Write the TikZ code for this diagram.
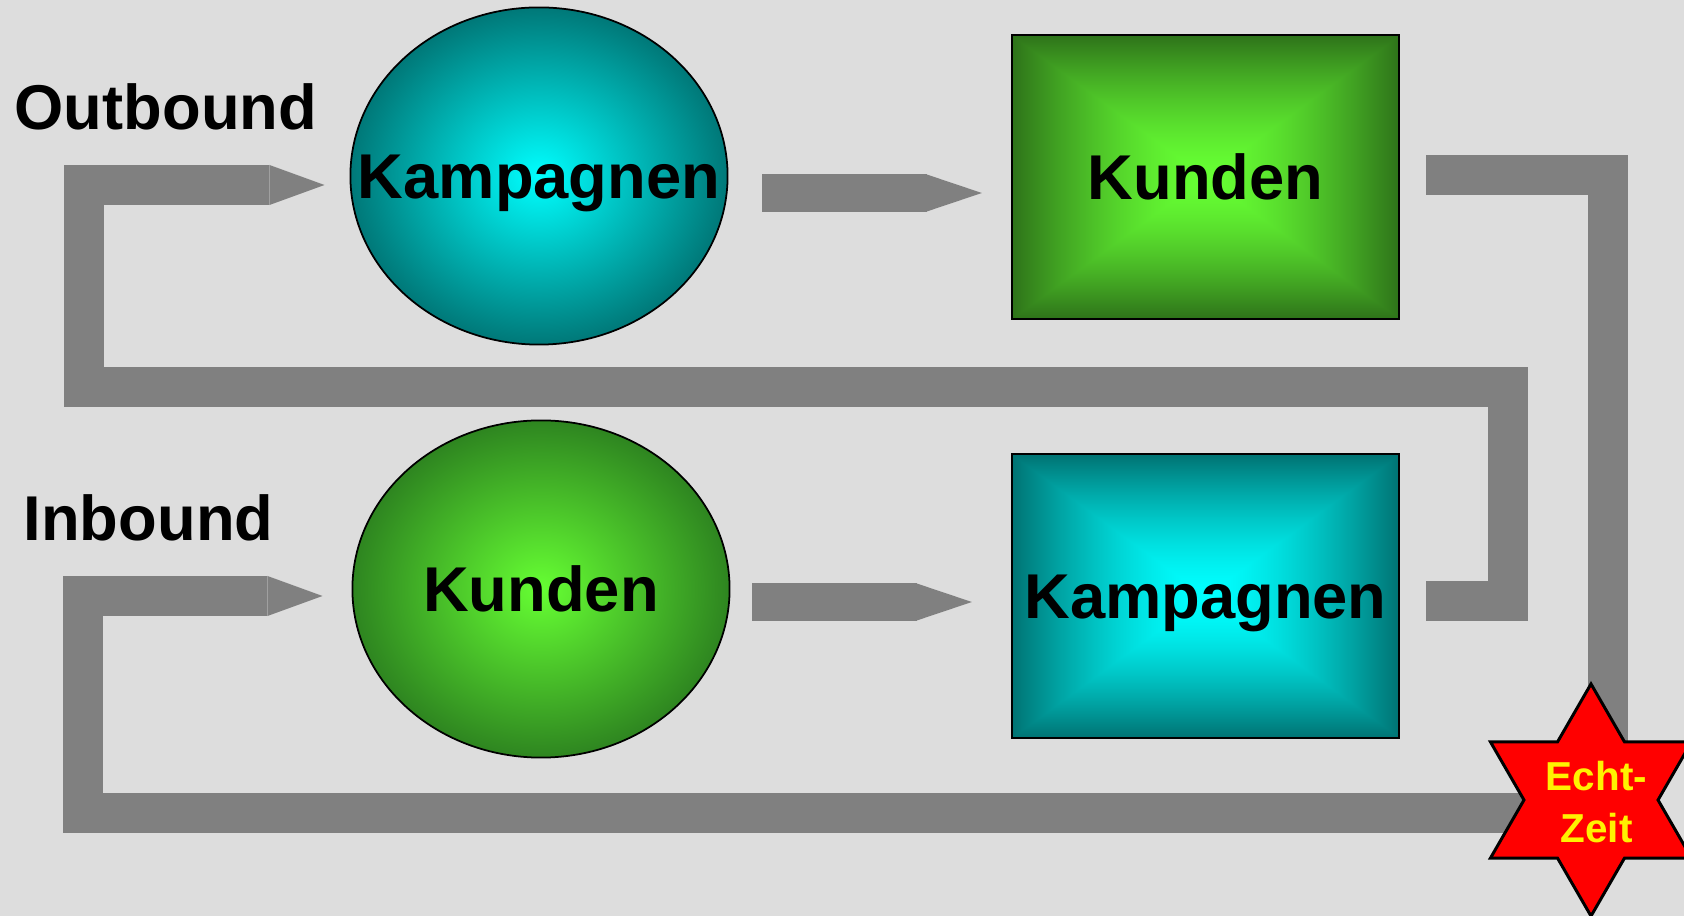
\documentclass[tikz,border=0pt]{standalone}
\usepackage{fontspec}
\setmainfont{Liberation Sans}
\usetikzlibrary{arrows.meta, positioning, shapes.geometric}

\definecolor{slide}{HTML}{DDDDDD}
\definecolor{pipegray}{HTML}{808080}
\definecolor{tealdark}{HTML}{007878}
\definecolor{greendark}{HTML}{2E8520}
\definecolor{greenlight}{HTML}{66FF33}

% glow for the boxes: t = max(|x|,|y|) over the inner square, t^1.5, light -> dark
\pgfdeclarefunctionalshading{glowgreen}{\pgfpointorigin}{\pgfpoint{100bp}{100bp}}{}{%
  50 sub abs 25 div exch 50 sub abs 25 div
  2 copy lt {exch} if pop dup 1 gt {pop 1} if dup sqrt mul
  dup -0.22 mul 0.40 add exch dup -0.55 mul 1 add exch -0.10 mul 0.20 add}
\pgfdeclarefunctionalshading{glowteal}{\pgfpointorigin}{\pgfpoint{100bp}{100bp}}{}{%
  50 sub abs 25 div exch 50 sub abs 25 div
  2 copy lt {exch} if pop dup 1 gt {pop 1} if dup sqrt mul
  -0.55 mul 1 add 0 exch dup}

\begin{document}
\begin{tikzpicture}[x=0.01cm, y=-0.01cm,
    word/.style={font=\fontsize{18}{21}\selectfont\bfseries, inner sep=0pt,
                 text height=12.9pt, text depth=0pt},
    heading/.style={font=\fontsize{18}{21}\selectfont\bfseries, inner sep=0pt},
    starword/.style={font=\fontsize{11.5}{14.8}\selectfont\bfseries, text=yellow,
                     align=center, inner sep=0pt},
    oval/.style={ellipse, draw=black, line width=0.5pt, inner sep=0pt,
                 minimum width=3.77cm, minimum height=3.37cm},
    panel/.style={rectangle, draw=black, line width=0.6pt, inner sep=0pt,
                  minimum width=3.87cm, minimum height=2.83cm, word},
    pipe/.style={draw=pipegray, line width=0.4cm},
    loopback/.style={pipe, -{Triangle[length=0.55cm, width=0.4cm, line width=0pt]}},
    push/.style={draw=pipegray, line width=0.37cm,
                 -{Triangle[length=0.55cm, width=0.37cm, line width=0pt]}}]
  % slide
  \fill[slide] (0,0) rectangle (1684,916);
  \useasboundingbox (0,0) rectangle (1684,916);

  % Outbound row
  \node[heading, anchor=base west] (outb) at (14,130) {Outbound};
  \node[oval, shading=radial, inner color=cyan, outer color=tealdark,
        label={[word]center:Kampagnen}] (kampO) at (539,176) {};
  \node[panel, shade, shading=glowgreen] (kundO) at (1205.5,177) {Kunden};

  % Inbound row
  \node[heading, anchor=base west] (inb) at (23,541) {Inbound};
  \node[oval, shading=radial, inner color=greenlight, outer color=greendark,
        label={[word]center:Kunden}] (kundI) at (541,589) {};
  \node[panel, shade, shading=glowteal] (kampI) at (1205.5,596) {Kampagnen};

  \coordinate (hub) at (1591,800);
  \coordinate (upR) at (1508,387);
  \coordinate (upL) at (84,185);
  \coordinate (downL) at (83,596);

  % forward arrows
  \draw[push] ([shift={(34,17)}]kampO.east) -- ([shift={(-29,16)}]kundO.west);
  \draw[push] ([shift={(22,13)}]kundI.east) -- ([shift={(-39,6)}]kampI.west);

  % feedback loops
  \draw[pipe] ([shift={(26,-2)}]kundO.east) -| ([xshift=0.17cm]hub);
  \draw[loopback] ([shift={(26,5)}]kampI.east) -| (upR) -| (upL)
    -- ([shift={(-25,9)}]kampO.west);
  \draw[loopback] ([yshift=-0.13cm]hub) -| (downL) -- ([shift={(-29,7)}]kundI.west);

  % real-time star
  \node[star, star points=6, star point ratio=1.732, minimum size=2.32cm,
        inner sep=0pt, fill=red, draw=black, line width=0.85pt,
        label={[starword, xshift=0.055cm, yshift=-0.025cm]center:Echt-\\Zeit}]
        (echt) at (hub) {};
\end{tikzpicture}
\end{document}
